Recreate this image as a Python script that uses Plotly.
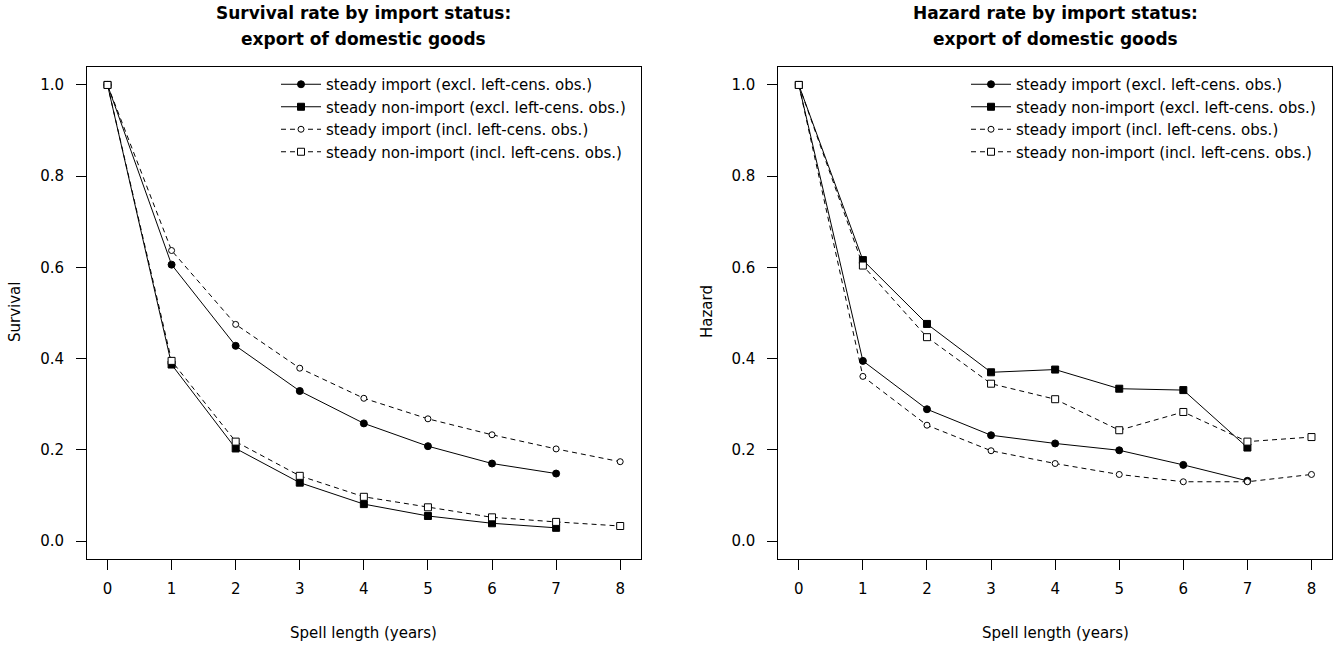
import plotly.graph_objects as go

W, H = 1339, 645

spell = [0, 1, 2, 3, 4, 5, 6, 7, 8]

# Survival (left panel)
surv_imp_excl = [1.0, 0.606, 0.428, 0.329, 0.258, 0.208, 0.170, 0.148]
surv_non_excl = [1.0, 0.387, 0.203, 0.128, 0.081, 0.055, 0.039, 0.029]
surv_imp_incl = [1.0, 0.637, 0.475, 0.379, 0.313, 0.268, 0.233, 0.202, 0.174]
surv_non_incl = [1.0, 0.395, 0.218, 0.143, 0.097, 0.074, 0.052, 0.042, 0.033]

# Hazard (right panel)
haz_imp_excl = [1.0, 0.395, 0.289, 0.232, 0.214, 0.199, 0.167, 0.132]
haz_non_excl = [1.0, 0.616, 0.476, 0.370, 0.376, 0.334, 0.331, 0.205]
haz_imp_incl = [1.0, 0.361, 0.254, 0.198, 0.170, 0.146, 0.130, 0.130, 0.146]
haz_non_incl = [1.0, 0.604, 0.447, 0.345, 0.311, 0.243, 0.283, 0.218, 0.228]

names = [
    "steady import (excl. left-cens. obs.)",
    "steady non-import (excl. left-cens. obs.)",
    "steady import (incl. left-cens. obs.)",
    "steady non-import (incl. left-cens. obs.)",
]
titles = [
    ["Survival rate by import status:", "export of domestic goods"],
    ["Hazard rate by import status:", "export of domestic goods"],
]
ylabels = ["Survival", "Hazard"]
xlabel = "Spell length (years)"
yticks = [0.0, 0.2, 0.4, 0.6, 0.8, 1.0]

FONT = "DejaVu Sans"
DASH = "5px,4px"

styles = [
    dict(symbol="circle", size=7, color="black", dash="solid"),
    dict(symbol="square", size=7, color="black", dash="solid"),
    dict(symbol="circle", size=6, color="white", dash=DASH),
    dict(symbol="square", size=7, color="white", dash=DASH),
]

fig = go.Figure()

panels = [
    (surv_imp_excl, surv_non_excl, surv_imp_incl, surv_non_incl),
    (haz_imp_excl, haz_non_excl, haz_imp_incl, haz_non_incl),
]

for p, series in enumerate(panels):
    xa = "x" if p == 0 else "x2"
    ya = "y" if p == 0 else "y2"
    lg = "legend" if p == 0 else "legend2"
    for i, vals in enumerate(series):
        st = styles[i]
        fig.add_trace(go.Scatter(
            x=spell[:len(vals)], y=vals, mode="lines+markers",
            name=names[i], xaxis=xa, yaxis=ya, legend=lg,
            line=dict(color="black", width=1, dash=st["dash"]),
            marker=dict(symbol=st["symbol"], size=st["size"], color=st["color"],
                        line=dict(color="black", width=1)),
        ))

def px_x(v):
    return v / W

def px_y(v):
    return 1 - v / H

left_dom = [px_x(87), px_x(640.7)]
right_dom = [px_x(778.3), px_x(1332)]
y_dom = [px_y(559.3), px_y(66.7)]

axis_common = dict(
    showline=True, mirror=True, linecolor="black", linewidth=1,
    ticks="outside", ticklen=10, tickwidth=1, tickcolor="black",
    showgrid=False, zeroline=False,
    tickfont=dict(family=FONT, size=15, color="black"),
)

xrange = [-0.32, 8.32]
yrange = [-0.04, 1.04]

legend_common = dict(
    xanchor="left", yanchor="top",
    bgcolor="rgba(0,0,0,0)", borderwidth=0,
    font=dict(family=FONT, size=15, color="black"),
    itemwidth=40, tracegroupgap=0,
)

fig.update_layout(
    width=W, height=H,
    margin=dict(l=0, r=0, t=0, b=0),
    paper_bgcolor="white", plot_bgcolor="white",
    font=dict(family=FONT, size=15, color="black"),
    xaxis=dict(domain=left_dom, range=xrange, tickmode="array", tickvals=spell,
               anchor="y", ticklabelstandoff=6, **axis_common),
    yaxis=dict(domain=y_dom, range=yrange, tickmode="array", tickvals=yticks,
               tickformat=".1f", anchor="x", ticklabelstandoff=9, **axis_common),
    xaxis2=dict(domain=right_dom, range=xrange, tickmode="array", tickvals=spell,
                anchor="y2", ticklabelstandoff=6, **axis_common),
    yaxis2=dict(domain=y_dom, range=yrange, tickmode="array", tickvals=yticks,
                tickformat=".1f", anchor="x2", ticklabelstandoff=9, **axis_common),
    legend=dict(x=px_x(276), y=px_y(68), **legend_common),
    legend2=dict(x=px_x(966), y=px_y(68), **legend_common),
    showlegend=True,
)

centers = [363.8, 1055.2]
annotations = []
for p in range(2):
    for k, ty in enumerate([13, 39]):
        annotations.append(dict(
            text="<b>%s</b>" % titles[p][k], xref="paper", yref="paper",
            x=px_x(centers[p]), y=px_y(ty), xanchor="center", yanchor="middle",
            showarrow=False, font=dict(family=FONT, size=17, color="black")))
    annotations.append(dict(
        text=xlabel, xref="paper", yref="paper",
        x=px_x(centers[p]), y=px_y(633), xanchor="center", yanchor="middle",
        showarrow=False, font=dict(family=FONT, size=15, color="black")))
annotations.append(dict(
    text=ylabels[0], xref="paper", yref="paper", textangle=-90,
    x=px_x(15), y=px_y(312), xanchor="center", yanchor="middle",
    showarrow=False, font=dict(family=FONT, size=15, color="black")))
annotations.append(dict(
    text=ylabels[1], xref="paper", yref="paper", textangle=-90,
    x=px_x(707), y=px_y(312), xanchor="center", yanchor="middle",
    showarrow=False, font=dict(family=FONT, size=15, color="black")))
fig.update_layout(annotations=annotations)

fig.write_html("out.html")
